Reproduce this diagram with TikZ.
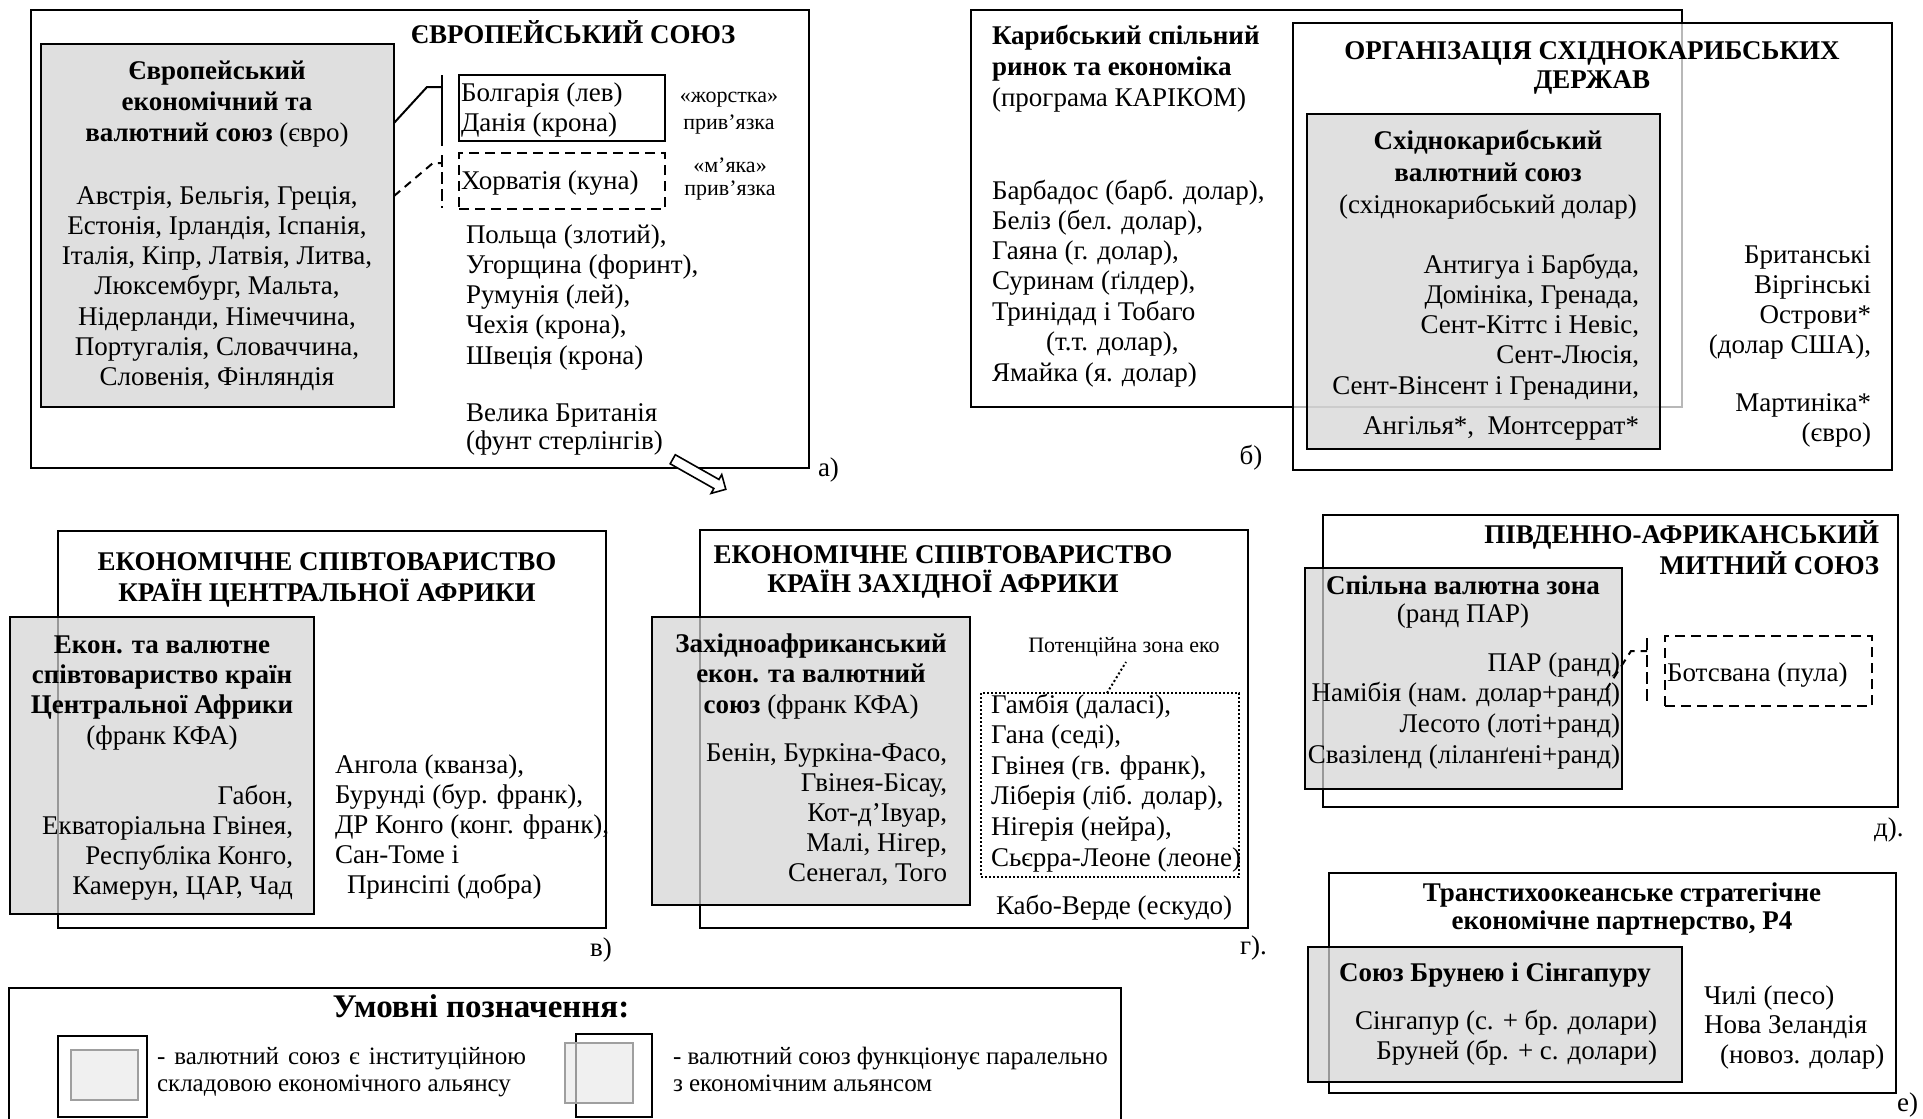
\documentclass[tikz,border=0pt]{standalone}
\usepackage{fontspec}
\setmainfont{Liberation Serif}
\usetikzlibrary{shapes.arrows,fit}
\definecolor{gfill}{gray}{0.875}
\definecolor{gfillt}{gray}{0.83}
\definecolor{lgfill}{gray}{0.94}
\definecolor{lgfillt}{gray}{0.91}
\newcommand\bodyfnt{\fontsize{13.5}{15.5}\selectfont}
\newcommand\smallfnt{\fontsize{11}{12}\selectfont}
\newcommand\legfnt{\fontsize{12.5}{14}\selectfont}
\begin{document}
\begin{tikzpicture}[x=0.5pt,y=-0.5pt,
  every node/.style={inner sep=0pt,outer sep=0pt},
  frame/.style={draw,line width=1pt},
  gbox/.style={draw,line width=1pt,fill=gfill},
  gboxt/.style={draw,line width=1pt,fill=gfillt,fill opacity=0.72},
  dashbox/.style={draw,line width=1pt,dash pattern=on 5pt off 3pt},
  dotbox/.style={draw,line width=1pt,dash pattern=on 1pt off 1pt},
  conn/.style={line width=1pt},
  txt/.style={font=\bodyfnt,text height=9pt,text depth=3pt},
  L/.style={txt,anchor=west},
  R/.style={txt,anchor=east},
  C/.style={txt,anchor=center},
  bf/.style={font=\bodyfnt\bfseries},
  sm/.style={font=\smallfnt,text height=7.5pt,text depth=2.5pt}]
\useasboundingbox (0,0) rectangle (1923,1119);

% ================= a) EU =================
\node[frame,fit={(31,10) (809,468)}] (eu) {};
\node[gbox,fit={(41,44) (394,407)}] (emu) {};
\node[frame,fit={(459,75) (665,141)}] (bg) {};
\node[dashbox,fit={(459,153) (665,209)}] (hr) {};
\node[C,bf] (eut) at (573,37) {ЄВРОПЕЙСЬКИЙ СОЮЗ};
\node[C,bf] (emu1) at (217,73) {Європейський};
\node[C,bf] (emu2) at (217,104) {економічний та};
\node[C] (emu3) at (217,135) {\textbf{валютний союз} (євро)};
\foreach \t [count=\i] in {{Австрія, Бельгія, Греція,},{Естонія, Ірландія, Іспанія,},{Італія, Кіпр, Латвія, Литва,},{Люксембург, Мальта,},{Нідерланди, Німеччина,},{Португалія, Словаччина,},{Словенія, Фінляндія}}
  \node[C] (eul\i) at (217,{198+(\i-1)*30.3}) {\t};
\node[L] (bg1) at (461,95) {Болгарія (лев)};
\node[L] (bg2) at (461,125) {Данія (крона)};
\node[L] (hr1) at (461,183) {Хорватія (куна)};
\node[C,sm] (hard1) at (729,97) {«жорстка»};
\node[C,sm] (hard2) at (729,124) {прив’язка};
\node[C,sm] (soft1) at (730,167) {«м’яка»};
\node[C,sm] (soft2) at (730,190) {прив’язка};
\foreach \t [count=\i] in {{Польща (злотий),},{Угорщина (форинт),},{Румунія (лей),},{Чехія (крона),},{Швеція (крона)}}
  \node[L] (pl\i) at (466,{237+(\i-1)*30.3}) {\t};
\node[L] (uk1) at (466,415) {Велика Британія};
\node[L] (uk2) at (466,443) {(фунт стерлінгів)};
\node[L] (lab-a) at (818,470) {а)};
% connectors
\coordinate (sa1) at (442,87);
\coordinate (sbt) at (442,75);
\coordinate (sbb) at (442,146);
\draw[conn] (emu.east |- 0,123) -- (427,87) -- (sa1);
\draw[conn] (sbt) -- (sbb);
\coordinate (sd1) at (442,163);
\coordinate (sdt) at (442,155);
\coordinate (sdb) at (442,208);
\draw[conn,dash pattern=on 4pt off 3pt] (emu.east |- 0,196) -- (433,163) -- (sd1);
\draw[conn,dash pattern=on 6pt off 2.5pt] (sdt) -- (sdb);
\node[single arrow,draw,fill=white,line width=0.8pt,minimum height=30.5pt,
      inner ysep=2.2pt,single arrow head extend=2.8pt,rotate=-29.5] (ukarrow) at (697,473) {};

% ================= b) Caribbean =================
\node[frame,fit={(971,10) (1682,407)}] (car) {};
\node[draw,line width=1pt,fill=white,fill opacity=0.72,fit={(1293,23) (1892,470)}] (oecs) {};
\node[gboxt,fit={(1307,114) (1660,449)}] (eccu) {};
\node[L,bf] (car1) at (992,38) {Карибський спільний};
\node[L,bf] (car2) at (992,69) {ринок та економіка};
\node[L] (car3) at (992,100) {(програма КАРІКОМ)};
\foreach \t [count=\i] in {{Барбадос (барб. долар),},{Беліз (бел. долар),},{Гаяна (г. долар),},{Суринам (ґілдер),},{Тринідад і Тобаго}}
  \node[L] (carl\i) at (992,{193+(\i-1)*30.3}) {\t};
\node[L] (carl6) at (1046,344) {(т.т. долар),};
\node[L] (carl7) at (992,375) {Ямайка (я. долар)};
\node[C,bf] (oecs1) at (1592,53) {ОРГАНІЗАЦІЯ СХІДНОКАРИБСЬКИХ};
\node[C,bf] (oecs2) at (1592,82) {ДЕРЖАВ};
\node[C,bf] (eccu1) at (1488,143) {Східнокарибський};
\node[C,bf] (eccu2) at (1488,175) {валютний союз};
\node[C] (eccu3) at (1488,207) {(східнокарибський долар)};
\foreach \t [count=\i] in {{Антигуа і Барбуда,},{Домініка, Гренада,},{Сент-Кіттс і Невіс,},{Сент-Люсія,},{Сент-Вінсент і Гренадини,}}
  \node[R] (eccul\i) at (1639,{267+(\i-1)*30.3}) {\t};
\node[R] (eccul6) at (1639,428) {Ангілья*,\ \ Монтсеррат*};
\foreach \t [count=\i] in {{Британські},{Віргінські},{Острови*},{(долар США),}}
  \node[R] (bvi\i) at (1871,{257+(\i-1)*30.3}) {\t};
\node[R] (mq1) at (1871,405) {Мартиніка*};
\node[R] (mq2) at (1871,435) {(євро)};
\node[C] (lab-b) at (1251,458) {б)};

% ================= c) Central Africa =================
\node[frame,fit={(58,531) (606,928)}] (ceeac) {};
\node[gboxt,fit={(10,617) (314,914)}] (cemac) {};
\node[C,bf] (ce1) at (327,564) {ЕКОНОМІЧНЕ СПІВТОВАРИСТВО};
\node[C,bf] (ce2) at (327,595) {КРАЇН ЦЕНТРАЛЬНОЇ АФРИКИ};
\node[C,bf] (cm1) at (162,647) {Екон. та валютне};
\node[C,bf] (cm2) at (162,677) {співтовариство країн};
\node[C,bf] (cm3) at (162,707) {Центральної Африки};
\node[C] (cm4) at (162,738) {(франк КФА)};
\foreach \t [count=\i] in {{Габон,},{Екваторіальна Гвінея,},{Республіка Конго,},{Камерун, ЦАР, Чад}}
  \node[R] (cml\i) at (293,{798+(\i-1)*30}) {\t};
\foreach \t [count=\i] in {{Ангола (кванза),},{Бурунді (бур. франк),},{ДР Конго (конг. франк),},{Сан-Томе і}}
  \node[L] (cel\i) at (335,{767+(\i-1)*30}) {\t};
\node[L] (cel5) at (347,887) {Принсіпі (добра)};
\node[L] (lab-c) at (590,950) {в)};

% ================= d) West Africa =================
\node[frame,fit={(700,530) (1248,928)}] (ecowas) {};
\node[gboxt,fit={(652,617) (970,905)}] (waemu) {};
\node[dotbox,fit={(981,693) (1239,877)}] (eco) {};
\node[C,bf] (ec1) at (943,557) {ЕКОНОМІЧНЕ СПІВТОВАРИСТВО};
\node[C,bf] (ec2) at (943,586) {КРАЇН ЗАХІДНОЇ АФРИКИ};
\node[C,bf] (wa1) at (811,646) {Західноафриканський};
\node[C,bf] (wa2) at (811,676) {екон. та валютний};
\node[C] (wa3) at (811,707) {\textbf{союз} (франк КФА)};
\foreach \t [count=\i] in {{Бенін, Буркіна-Фасо,},{Гвінея-Бісау,},{Кот-д’Івуар,},{Малі, Нігер,},{Сенегал, Того}}
  \node[R] (wal\i) at (947,{755+(\i-1)*30}) {\t};
\foreach \t [count=\i] in {{Гамбія (даласі),},{Гана (седі),},{Гвінея (гв. франк),},{Ліберія (ліб. долар),},{Нігерія (нейра),},{Сьєрра-Леоне (леоне)}}
  \node[L] (ecol\i) at (991,{707+(\i-1)*30.6}) {\t};
\node[C,sm] (potlbl) at (1124,647) {Потенційна зона еко};
\coordinate (pot1) at (1107,693);
\coordinate (pot2) at (1126,662);
\draw[line width=1pt,dash pattern=on 1pt off 1.2pt] (pot1) -- (pot2);
\node[C] (cv) at (1114,908) {Кабо-Верде (ескудо)};
\node[L] (lab-d) at (1240,948) {г).};

% ================= e) SACU =================
\node[frame,fit={(1323,515) (1898,807)}] (sacu) {};
\node[gboxt,fit={(1305,568) (1622,789)}] (cma) {};
\node[dashbox,fit={(1665,636) (1872,706)}] (bw) {};
\node[R,bf] (sa1t) at (1879,537) {ПІВДЕННО-АФРИКАНСЬКИЙ};
\node[R,bf] (sa2t) at (1879,568) {МИТНИЙ СОЮЗ};
\node[C,bf] (cma1) at (1463,588) {Спільна валютна зона};
\node[C] (cma2) at (1463,616) {(ранд ПАР)};
\foreach \t [count=\i] in {{ПАР (ранд)},{Намібія (нам. долар+ранд)},{Лесото (лоті+ранд)},{Свазіленд (ліланґені+ранд)}}
  \node[R] (cmal\i) at (1620,{665+(\i-1)*30.7}) {\t};
\node[L] (bw1) at (1667,675) {Ботсвана (пула)};
\coordinate (bj1) at (1647,651);
\coordinate (bjt) at (1647,638);
\coordinate (bjb) at (1647,702);
\draw[conn,dash pattern=on 4pt off 3pt] (1606,690) -- (1631,651) -- (bj1);
\draw[conn,dash pattern=on 6pt off 2.5pt] (bjt) -- (bjb);
\node[L] (lab-e) at (1874,830) {д).};

% ================= f) P4 =================
\node[frame,fit={(1329,873) (1896,1093)}] (p4) {};
\node[gboxt,fit={(1308,947) (1682,1082)}] (bs) {};
\node[C,bf] (p41) at (1622,895) {Транстихоокеанське стратегічне};
\node[C,bf] (p42) at (1622,923) {економічне партнерство, Р4};
\node[C,bf] (bs1) at (1495,975) {Союз Брунею і Сінгапуру};
\node[R] (bs2) at (1657,1023) {Сінгапур (с. + бр. долари)};
\node[R] (bs3) at (1657,1053) {Бруней (бр. + с. долари)};
\node[L] (cl1) at (1704,998) {Чилі (песо)};
\node[L] (cl2) at (1704,1027) {Нова Зеландія};
\node[L] (cl3) at (1720,1057) {(новоз. долар)};
\node[L] (lab-f) at (1897,1105) {е)};

% ================= legend =================
\node[frame,fit={(9,988) (1121,1140)}] (leg) {};
\node[C,font=\fontsize{16.5}{18}\selectfont\bfseries] (legt) at (481,1011) {Умовні позначення:};
\node[draw,line width=1.2pt,fit={(58,1036) (147,1117)}] (li1o) {};
\node[draw,gray!75,fill=lgfill,line width=0.6pt,fit={(71,1050) (138,1100)}] (li1i) {};
\node[L,font=\legfnt] (lt1a) at (157,1058) {\makebox[184.5pt][s]{- валютний союз є інституційною}};
\node[L,font=\legfnt] (lt1b) at (157,1085) {складовою економічного альянсу};
\node[draw,line width=1.2pt,fit={(576,1034) (652,1117)}] (li2o) {};
\node[draw,gray!75,fill=lgfillt,fill opacity=0.66,line width=0.6pt,fit={(565,1043) (633,1103)}] (li2i) {};
\node[L,font=\legfnt] (lt2a) at (673,1058) {- валютний союз функціонує паралельно};
\node[L,font=\legfnt] (lt2b) at (673,1085) {з економічним альянсом};
\end{tikzpicture}
\end{document}
